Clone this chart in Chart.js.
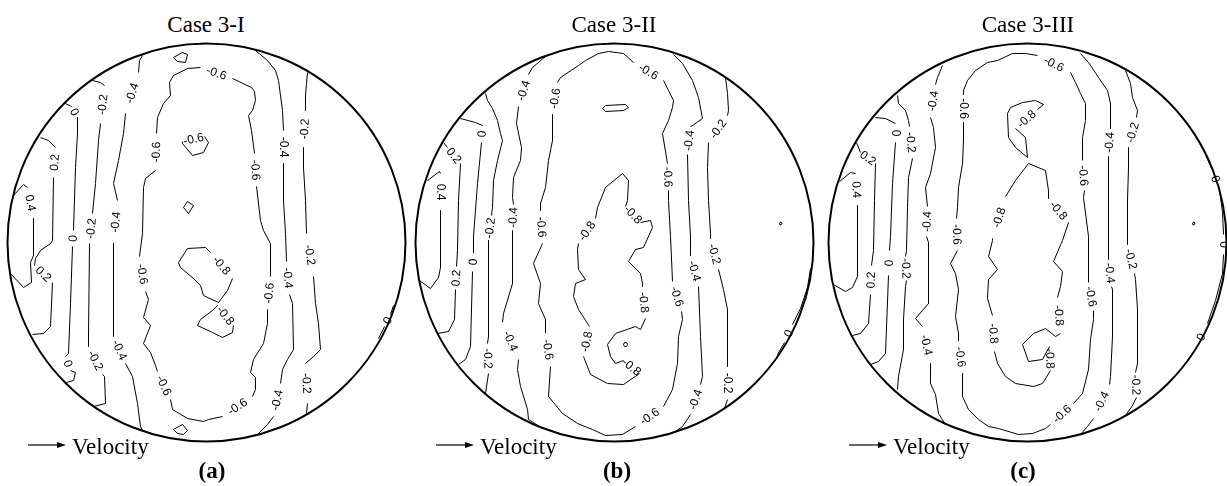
<!DOCTYPE html>
<html>
<head>
<meta charset="utf-8">
<script src="https://cdn.jsdelivr.net/npm/chart.js@4.4.1/dist/chart.umd.min.js"></script>
<style>
  html, body { margin: 0; padding: 0; background: #fff; }
  body { position: relative; width: 1227px; height: 486px; overflow: hidden; }
  .panel { position: absolute; top: 37px; width: 410px; height: 410px; }
  .panel canvas { display: block; }
  .title, .velo, .tag { position: absolute; font-family: "Liberation Serif", "Times New Roman", serif; font-size: 23px; line-height: 23px; color: #000; white-space: nowrap; }
  .title { top: 13px; width: 200px; text-align: center; }
  .tag { top: 459px; width: 60px; text-align: center; font-weight: bold; }
  .velo { top: 435px; }
  .arrow { position: absolute; top: 440px; width: 40px; height: 10px; }
</style>
</head>
<body>
<div class="panel" style="left:1px"><canvas id="caseI" width="410" height="410"></canvas></div>
<div class="panel" style="left:409px"><canvas id="caseII" width="410" height="410"></canvas></div>
<div class="panel" style="left:822px"><canvas id="caseIII" width="410" height="410"></canvas></div>

<div class="title" style="left:106px">Case 3-I</div>
<div class="title" style="left:514px">Case 3-II</div>
<div class="title" style="left:928px">Case 3-III</div>

<svg class="arrow" style="left:28px" viewBox="0 0 40 10"><line x1="0" y1="5" x2="32" y2="5" stroke="#000" stroke-width="1.2"/><path d="M29 2 L38 5 L29 8 Z" fill="#000"/></svg>
<svg class="arrow" style="left:436px" viewBox="0 0 40 10"><line x1="0" y1="5" x2="32" y2="5" stroke="#000" stroke-width="1.2"/><path d="M29 2 L38 5 L29 8 Z" fill="#000"/></svg>
<svg class="arrow" style="left:849px" viewBox="0 0 40 10"><line x1="0" y1="5" x2="32" y2="5" stroke="#000" stroke-width="1.2"/><path d="M29 2 L38 5 L29 8 Z" fill="#000"/></svg>
<div class="velo" style="left:72px">Velocity</div>
<div class="velo" style="left:480px">Velocity</div>
<div class="velo" style="left:893px">Velocity</div>

<div class="tag" style="left:182px">(a)</div>
<div class="tag" style="left:587px">(b)</div>
<div class="tag" style="left:993px">(c)</div>

<script>
// Pressure-coefficient contours on the circular section, one chart per case.
// Each path is a list of [x, y] points in section units (radius R);
// a null entry marks a break in the line where the contour level is written.
const R = 199;

// ---- Case 3-I ----
const caseI_levels = [0.4, 0.2, 0, -0.2, -0.4, -0.6, -0.6, -0.6, -0.6, -0.6, -0.8, -0.8, -0.4, -0.2, 0];
const caseI_paths = [
  [[-193,-47],[-183,-58],[-179,-55],null,[-173,-24],[-173,13],[-176,20],[-175,40],[-183,45],[-196,31]],
  [[-166,-105],[-158,-102],[-151,-95],null,[-153,-65],[-154,-2],[-156,1],[-166,8],[-171,16],[-172,23],null,[-154,40],[-156,84],[-163,91],[-174,92]],
  [[-141,-139],[-135,-136],null,[-129,-125],[-129,-109],[-131,-75],[-133,-12],null,[-134,4],[-136,61],[-138,111],[-141,114],null,[-136,128],[-131,130],[-133,138],[-140,140]],
  [[-114,-162],[-106,-160],[-102,-157],null,[-106,-119],[-108,-102],[-111,-59],[-114,-29],null,[-117,1],[-118,94],[-118,104],null,[-104,132],[-102,134],[-101,161],[-113,164]],
  [[-64,-187],[-67,-182],[-68,-170],null,[-81,-129],[-83,-109],[-88,-82],[-93,-59],[-89,-42],null,[-93,1],[-93,94],null,[-81,121],[-74,134],[-69,161],[-66,184],[-64,188]],
  [[-6,-175],[-19,-174],[-33,-167],[-37,-160],[-36,-147],[-43,-139],[-49,-125],[-50,-109],null,[-51,-72],[-61,-64],[-63,-55],[-64,-9],[-67,14],null,[-61,49],[-58,57],[-63,75],[-56,83],[-63,101],[-56,110],[-51,123],[-49,129],null,[-36,157],[-34,167],[-19,176],[-3,179],[2,177],[16,174],null,[46,154],[49,147],[49,135],[44,130],[47,117],[57,101],[61,81],[61,67],null,[64,34],[64,1],[57,-12],[54,-22],[50,-56],null,[48,-89],[45,-112],[42,-127],[46,-132],[49,-142],[48,-151],[45,-155],[26,-164],null,[-6,-175]],
  [[-2,-106],[2,-100],[-3,-90],[-14,-87],[-24,-99],[-24,-101],null,[-2,-106]],
  [[-23,-35],[-19,-41],[-13,-37],[-18,-29],[-23,-35]],
  [[-33,-185],[-24,-190],[-19,-188],[-21,-180],[-29,-181],[-33,-185]],
  [[-33,187],[-24,182],[-19,188],[-23,192],[-29,191],[-33,187]],
  [[4,10],[-1,5],[-19,6],[-28,20],[-26,25],[-13,36],[-6,43],[-3,53],[12,60],[21,48],[26,36],null,[4,10]],
  [[11,63],null,[27,83],[26,90],[16,95],[6,90],[-9,83],[-6,77],[6,68],[11,63]],
  [[49,-192],[61,-182],[69,-172],[72,-162],[76,-132],[77,-112],null,[77,-79],[77,-42],[79,-9],[80,19],null,[83,52],[86,61],[87,107],[81,117],[76,127],[74,141],null,[67,174],[61,182],[51,192]],
  [[101,-170],[100,-159],[99,-147],[99,-132],null,[97,-95],[97,-75],[99,-42],[100,-9],null,[107,34],[109,61],[112,81],[114,107],[107,114],[99,121],null,[101,161],[100,171]],
  [[187,63],[184,72],null,[178,84],[172,96]]
];

// ---- Case 3-II ----
const caseII_levels = [0.4, 0.2, 0, -0.2, -0.4, -0.6, -0.8, -0.8, -0.8, 0, -0.4, -0.2, 0];
const caseII_paths = [
  [[-187,-62],[-175,-71],[-174,-69],null,[-174,-32],[-174,25],[-176,35],[-184,46],[-195,38]],
  [[-171,-100],[-167,-95],null,[-154,-79],[-156,-42],[-157,8],[-158,24],null,[-159,47],[-160,77],[-166,89],[-177,91]],
  [[-154,-124],[-139,-120],[-132,-117],null,[-133,-100],[-137,-59],[-141,-6],[-141,10],null,[-142,29],[-144,104],[-149,117],[-156,122]],
  [[-129,-149],[-127,-142],[-122,-134],[-117,-122],[-114,-109],[-112,-102],[-117,-82],[-121,-62],[-122,-35],[-123,-27],null,[-126,-2],[-126,94],[-127,101],null,[-126,131],[-129,151]],
  [[-69,-186],[-82,-175],[-86,-168],null,[-96,-136],[-98,-119],[-93,-95],[-94,-82],[-101,-65],[-102,-45],[-101,-38],null,[-102,-12],[-102,41],[-111,71],[-112,80],null,[-96,117],[-97,127],[-94,144],[-87,167],[-86,177],[-75,184]],
  [[19,-180],[9,-189],[-6,-191],[-16,-189],[-29,-182],[-36,-177],[-54,-165],[-57,-160],null,[-62,-128],[-62,-102],[-66,-82],[-69,-55],[-74,-39],[-74,-32],null,[-72,1],[-81,21],[-74,41],[-76,61],[-69,77],[-69,90],null,[-64,124],[-66,154],[-52,171],[-37,181],[-22,187],[-9,193],[8,192],[21,184],null,[49,164],[58,147],[63,121],[64,94],[68,77],[67,69],null,[58,39],[56,-6],[54,-42],[54,-52],null,[53,-79],[48,-109],[54,-122],[58,-135],[59,-142],[54,-152],[49,-162],null,[19,-180]],
  [[-19,-24],[-17,-35],[-9,-55],[8,-69],[14,-62],[13,-42],[11,-36],null,[26,-20],[36,-22],[38,-15],[29,5],[21,7],[14,19],[26,31],[28,41],[28,44],null,[31,76],[26,87],[21,84],[1,91],[-7,102],[-4,114],[1,121],[9,118],null,[25,131],[9,142],[-7,141],[-24,132],[-31,114],null,[-25,84],[-36,67],[-41,54],[-39,41],[-29,37],[-36,27],[-37,7],[-36,1],null,[-19,-24]],
  [[-12,-134],[-9,-137],[11,-138],[14,-135],[9,-132],[-9,-131],[-12,-134]],
  [[9,102],[10,100],[12,100],[13,102],[12,104],[10,104],[9,102]],
  [[165,-19],[166,-20.5],[167.5,-19.5],[167,-18],[165.5,-17.5],[165,-19]],
  [[59,-188],[68,-179],[78,-162],[84,-145],[88,-124],[78,-117],[76,-116],null,[73,-88],[74,-42],[76,-6],[76,13],null,[84,44],[86,94],[88,134],[86,142],null,[76,172],[68,184],[61,189]],
  [[111,-165],[113,-149],[114,-132],[113,-127],null,[94,-100],[93,-75],[94,-42],[96,-9],[96,-4],null,[104,27],[109,47],[113,67],[113,107],[113,124],null,[113,157],[110,166]],
  [[196,26],[193,45],[186,66],[178,82],null,[170,100],[163,112]]
];

// ---- Case 3-III ----
const caseIII_levels = [0.4, 0.2, 0, -0.2, -0.4, -0.6, -0.8, -0.8, -0.4, -0.2, 0, 0];
const caseIII_paths = [
  [[-188,-61],[-177,-70],[-172,-69],null,[-170,-37],[-170,8],[-170,34],[-175,45],[-182,49],[-194,42]],
  [[-171,-100],[-167,-90],null,[-152,-79],[-153,-42],[-154,8],[-156,23],null,[-157,52],[-159,81],[-167,91],[-175,93]],
  [[-152,-125],[-142,-124],[-132,-119],null,[-132,-100],[-135,-59],[-137,-6],[-138,8],null,[-139,33],[-142,111],[-149,119],[-157,122]],
  [[-130,-147],[-129,-139],[-122,-132],[-119,-122],[-118,-116],null,[-115,-84],[-119,-65],[-120,-35],[-121,8],[-122,14],null,[-121,38],[-122,44],[-124,77],[-124,107],[-129,134],[-130,147]],
  [[-85,-177],[-90,-165],[-92,-158],null,[-97,-125],[-94,-115],[-92,-95],[-97,-69],[-102,-55],[-100,-36],null,[-101,-6],[-99,0],[-99,61],[-112,76],[-105,84],null,[-97,121],[-97,141],[-92,152],[-89,171],[-82,182]],
  [[10,-187],[-2,-189],[-15,-189],[-30,-182],[-40,-180],[-52,-172],[-60,-162],[-64,-152],[-64,-148],null,[-64,-120],[-64,-102],[-65,-79],[-69,-55],[-70,-35],[-71,-24],null,[-70,8],[-77,21],[-72,31],[-69,47],[-72,74],[-69,91],[-69,98],null,[-65,131],[-65,154],[-59,167],[-49,177],[-39,184],[-29,186],[-9,192],[5,191],[18,186],[23,182],null,[46,161],[55,151],[61,127],[63,97],[66,77],[66,68],null,[61,40],[61,-6],[56,-45],[57,-52],null,[55,-82],[55,-105],[58,-122],[58,-139],[53,-149],[48,-160],[43,-170],null,[10,-187]],
  [[0,-85],[-12,-95],[-19,-105],[-20,-129],[-17,-135],[-5,-140],[8,-142],[16,-138],[10,-133],null,[-12,-114],[-2,-105],[0,-85]],
  [[1,-79],[18,-72],[21,-52],[21,-44],null,[41,-20],[35,-2],[26,19],[35,29],[33,44],[30,55],null,[33,91],[28,94],[18,86],[6,91],[-5,102],[1,119],[15,117],[22,104],null,[23,128],[15,141],[6,144],[-12,141],[-22,134],[-30,121],[-33,109],null,[-35,73],[-40,56],[-39,37],[-30,27],[-39,14],[-35,-2],[-35,-4],null,[-22,-46],[-12,-62],[1,-79]],
  [[53,-189],[61,-180],[71,-165],[80,-152],[83,-139],[83,-119],[83,-114],null,[81,-86],[81,-79],[81,-42],[81,8],[81,17],null,[84,44],[85,47],[85,94],[83,134],[82,142],null,[66,176],[60,184],[53,192]],
  [[98,-172],[103,-159],[105,-145],[110,-132],[109,-125],null,[101,-95],[101,-75],[100,-42],[100,-6],[100,2],null,[107,31],[108,37],[110,67],[110,121],[108,130],null,[109,155],[105,163],[98,173]],
  [[178,-88],[184,-74],null,[192,-53],[195,-30],[196,-8],null,[196,12],[195,31],[188,58],[180,81],null,[167,108],[160,118]],
  [[165,-19],[166,-20.5],[167.5,-19.5],[167,-18],[165.5,-17.5],[165,-19]]
];

function levelText(v) {
  return v === 0 ? '0' : v.toFixed(1);
}

// Outline of the circular section, drawn from the scales.
const sectionOutline = {
  id: 'sectionOutline',
  afterDatasetsDraw(chart) {
    const xs = chart.scales.x, ys = chart.scales.y, ctx = chart.ctx;
    const cx = xs.getPixelForValue(0), cy = ys.getPixelForValue(0);
    const r = xs.getPixelForValue(R) - cx;
    ctx.save();
    ctx.beginPath();
    ctx.arc(cx, cy, r, 0, Math.PI * 2);
    ctx.lineWidth = 2;
    ctx.strokeStyle = '#000';
    ctx.stroke();
    ctx.restore();
  }
};

// Writes each contour's level inside the breaks of its line, turned along the line.
const contourLabels = {
  id: 'contourLabels',
  afterDatasetsDraw(chart) {
    const xs = chart.scales.x, ys = chart.scales.y, ctx = chart.ctx;
    ctx.save();
    ctx.font = '12px "Liberation Sans", Arial, sans-serif';
    ctx.fillStyle = '#000';
    ctx.textAlign = 'center';
    ctx.textBaseline = 'middle';
    chart.data.datasets.forEach(ds => {
      const d = ds.data;
      for (let j = 1; j < d.length - 1; j++) {
        if (d[j].y !== null) continue;
        const a = d[j - 1], b = d[j + 1];
        const ax = xs.getPixelForValue(a.x), ay = ys.getPixelForValue(a.y);
        const bx = xs.getPixelForValue(b.x), by = ys.getPixelForValue(b.y);
        let ang = Math.atan2(by - ay, bx - ax);
        if (ang > Math.PI / 2) ang -= Math.PI;
        if (ang < -Math.PI / 2) ang += Math.PI;
        ctx.save();
        ctx.translate((ax + bx) / 2, (ay + by) / 2);
        ctx.rotate(ang);
        ctx.fillText(ds.label, 0, 0.5);
        ctx.restore();
      }
    });
    ctx.restore();
  }
};

function contourChart(id, levels, paths) {
  return new Chart(document.getElementById(id), {
    type: 'scatter',
    data: {
      datasets: paths.map((path, i) => ({
        label: levelText(levels[i]),
        data: path.map(p => p ? { x: p[0], y: p[1] } : { x: null, y: null }),
        showLine: true,
        spanGaps: false,
        tension: 0,
        fill: false,
        clip: false,
        borderColor: '#000',
        borderWidth: 1,
        pointRadius: 0,
        pointHoverRadius: 0
      }))
    },
    options: {
      responsive: false,
      animation: false,
      devicePixelRatio: 1,
      events: [],
      // half-pixel offset keeps the 1px contour lines crisp
      layout: { padding: { left: 6.5, top: 6.5, right: 5.5, bottom: 5.5 } },
      scales: {
        x: { type: 'linear', min: -R, max: R, display: false },
        y: { type: 'linear', min: -R, max: R, reverse: true, display: false }
      },
      plugins: { legend: { display: false }, tooltip: { enabled: false } }
    },
    plugins: [sectionOutline, contourLabels]
  });
}

contourChart('caseI', caseI_levels, caseI_paths);
contourChart('caseII', caseII_levels, caseII_paths);
contourChart('caseIII', caseIII_levels, caseIII_paths);
</script>
</body>
</html>
